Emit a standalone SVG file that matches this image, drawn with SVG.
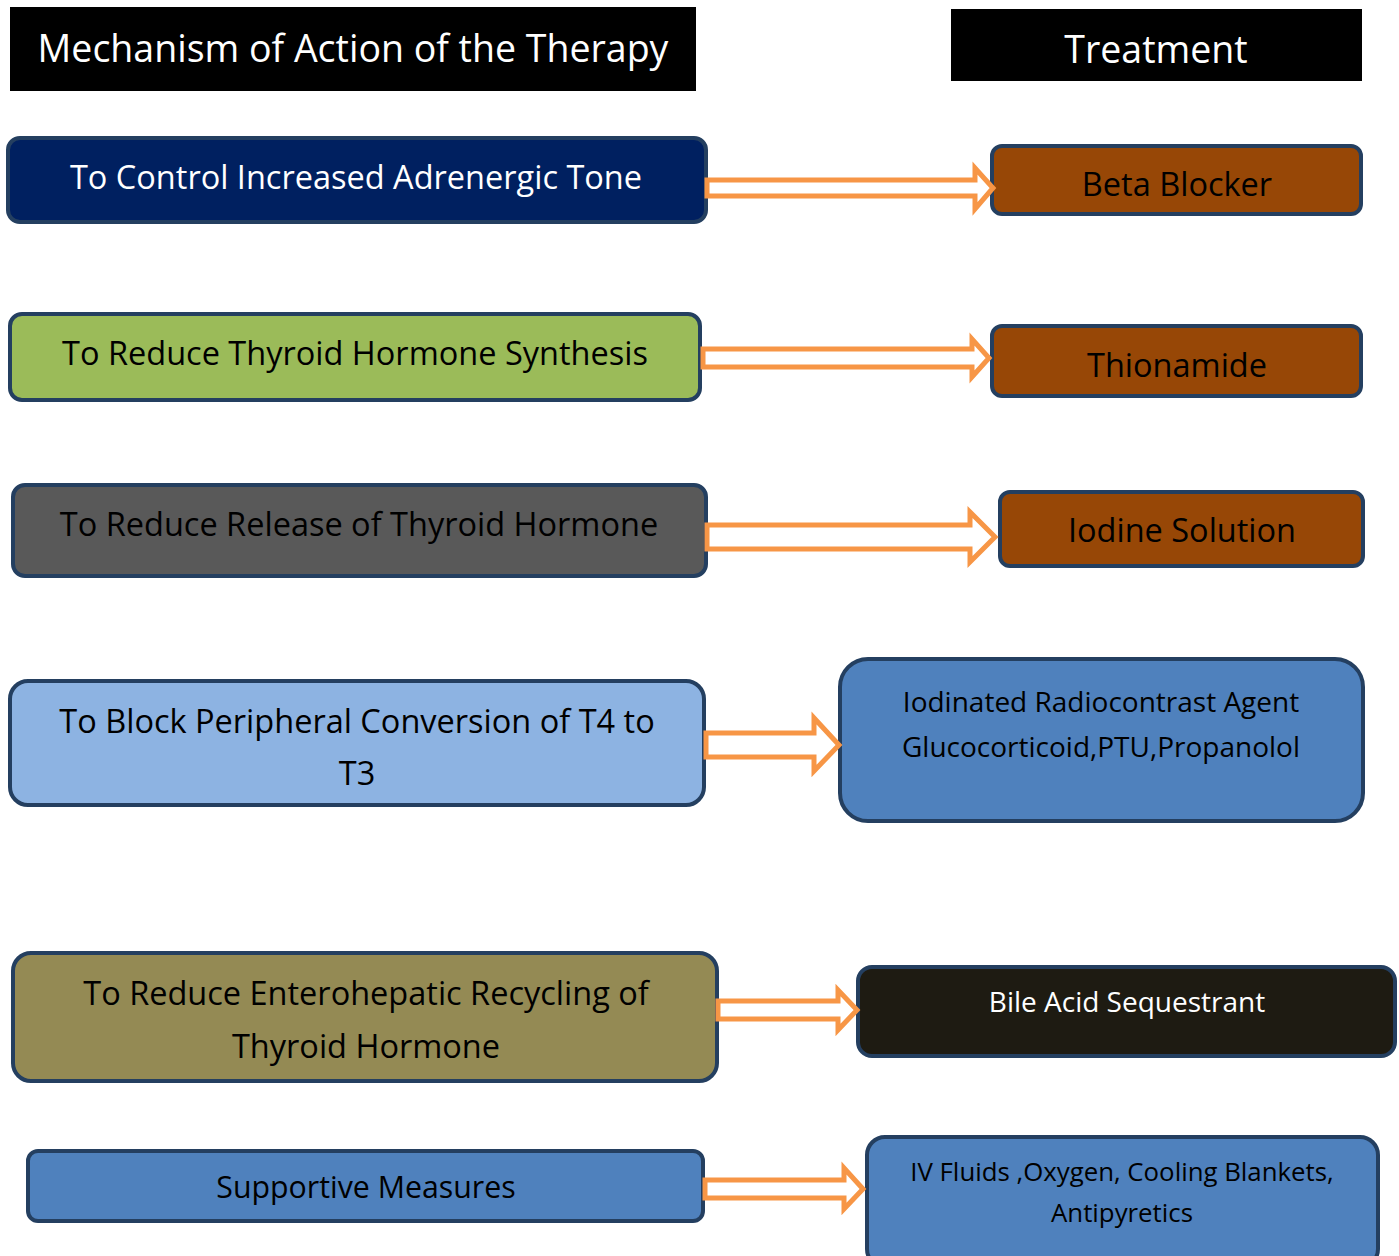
<svg xmlns="http://www.w3.org/2000/svg" width="1399" height="1256" viewBox="0 0 1399 1256">
<style>
text{font-family:"Open Sans","Liberation Sans",sans-serif;text-anchor:middle}
.hd{fill:#000}
.ht{fill:#fff;font-size:37.5px}
.bx{stroke:#243f60;stroke-width:4}
.t{font-size:32.5px;fill:#000}
.s{font-size:28px;fill:#000}
.s2{font-size:25.8px;fill:#000}
.w{fill:#fff}
.ar{fill:#fff;stroke:#f79646;stroke-width:5;stroke-linejoin:miter}
</style>
<rect width="1399" height="1256" fill="#fff"/>
<g id="header-mechanism"><rect class="hd" x="10" y="7" width="686" height="84"/><text class="ht" x="353" y="62">Mechanism of Action of the Therapy</text></g>
<g id="header-treatment"><rect class="hd" x="951" y="9" width="411" height="72"/><text class="ht" x="1156" y="63">Treatment</text></g>

<g id="m1"><rect class="bx" x="8" y="138" width="698" height="84" rx="12" fill="#002060"/><text class="t w" x="356" y="189">To Control Increased Adrenergic Tone</text></g>
<g id="m2"><rect class="bx" x="10" y="314" width="690" height="86" rx="12" fill="#9bbb59"/><text class="t" x="355" y="365">To Reduce Thyroid Hormone Synthesis</text></g>
<g id="m3"><rect class="bx" x="13" y="485" width="693" height="91" rx="12" fill="#595959"/><text class="t" x="359" y="536">To Reduce Release of Thyroid Hormone</text></g>
<g id="m4"><rect class="bx" x="10" y="681" width="694" height="124" rx="18" fill="#8db3e2"/><text class="t" x="357" y="733">To Block Peripheral Conversion of T4 to</text><text class="t" x="357" y="785">T3</text></g>
<g id="m5"><rect class="bx" x="13" y="953" width="704" height="128" rx="18" fill="#948a54"/><text class="t" x="366" y="1005">To Reduce Enterohepatic Recycling of</text><text class="t" x="366" y="1058">Thyroid Hormone</text></g>
<g id="m6"><rect class="bx" x="28" y="1151" width="675" height="70" rx="10" fill="#4f81bd"/><text class="t" x="366" y="1198" style="font-size:30.3px">Supportive Measures</text></g>

<g id="t1"><rect class="bx" x="992" y="146" width="369" height="68" rx="10" fill="#974706"/><text class="t" x="1177" y="196">Beta Blocker</text></g>
<g id="t2"><rect class="bx" x="992" y="326" width="369" height="70" rx="10" fill="#974706"/><text class="t" x="1177" y="377">Thionamide</text></g>
<g id="t3"><rect class="bx" x="1000" y="492" width="363" height="74" rx="10" fill="#974706"/><text class="t" x="1182" y="542">Iodine Solution</text></g>
<g id="t4"><rect class="bx" x="840" y="659" width="523" height="162" rx="28" fill="#4f81bd"/><text class="s" x="1101" y="712">Iodinated Radiocontrast Agent</text><text class="s" x="1101" y="757">Glucocorticoid,PTU,Propanolol</text></g>
<g id="t5"><rect class="bx" x="858" y="967" width="537" height="89" rx="14" fill="#1e1b12"/><text class="s w" x="1127" y="1012">Bile Acid Sequestrant</text></g>
<g id="t6"><rect class="bx" x="867" y="1137" width="511" height="130" rx="18" fill="#4f81bd"/><text class="s2" x="1122" y="1181">IV Fluids ,Oxygen, Cooling Blankets,</text><text class="s2" x="1122" y="1222">Antipyretics</text></g>

<g id="connectors">
<polygon class="ar" points="707,180 975,180 975,168 993,188 975,209 975,196 707,196"/>
<polygon class="ar" points="703,349 972,349 972,339 989,358 972,377 972,367 703,367"/>
<polygon class="ar" points="707,525 970,525 970,512 995,537 970,562 970,549 707,549"/>
<polygon class="ar" points="706,733 814,733 814,718 839,745 814,771 814,757 706,757"/>
<polygon class="ar" points="718,1001 838,1001 838,990 857,1010 838,1030 838,1019 718,1019"/>
<polygon class="ar" points="705,1180 844,1180 844,1168 863,1189 844,1209 844,1198 705,1198"/>
</g>
</svg>
